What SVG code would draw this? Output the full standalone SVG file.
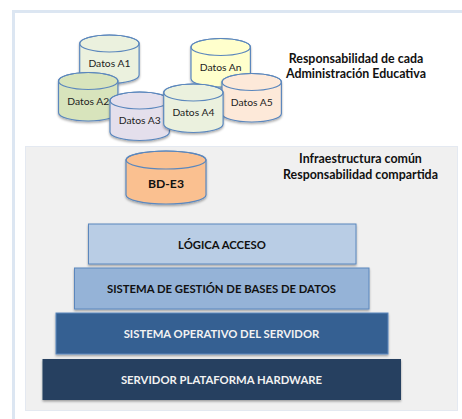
<svg xmlns="http://www.w3.org/2000/svg" width="462" height="419" viewBox="0 0 462 419">
<defs>
<filter id="sh" x="-10%" y="-10%" width="120%" height="125%"><feDropShadow dx="0" dy="1.5" stdDeviation="1" flood-color="#000" flood-opacity="0.35"/></filter>
<path id="cyl" d="M0 8.5A29.7 8.5 0 0 1 59.4 8.5V40A29.7 8.5 0 0 1 0 40Z"/>
<ellipse id="cap" cx="29.7" cy="8.5" rx="29.7" ry="8.5"/>
</defs>
<style>
text{font-family:Lato,"Open Sans","Liberation Sans",sans-serif;text-anchor:middle}
.c{stroke:#5b87bd;stroke-width:1.2;filter:url(#sh)}
.e{fill:none;stroke:#5b87bd;stroke-width:1.2}
.d{font-size:10.3px;fill:#222}
.h{font-size:12.4px;font-weight:700;fill:#111}
.b{font-size:11.3px;font-weight:700;fill:#111}
.w{font-size:11.3px;font-weight:700;fill:#f2f2f2}
.r{stroke:#5b87bd;stroke-width:1;filter:url(#sh)}
</style>
<rect width="462" height="419" fill="#fff"/>
<g id="frame"><path d="M13.500 419V11.500H462" fill="none" stroke="#dce6f2" stroke-width="3"/></g>
<g id="panel"><rect x="25.500" y="146.500" width="432" height="264" fill="#f0f0f0" stroke="#e4e9f1"/></g>
<g id="connectors"></g>
<g id="datos-a1" transform="translate(79.700 35)"><use href="#cyl" class="c" fill="#ebf1de"/><use href="#cap" class="e"/><text x="29.700" y="32" class="d">Datos A1</text></g>
<g id="datos-an" transform="translate(191 38.500)"><use href="#cyl" class="c" fill="#ffffcc"/><use href="#cap" class="e"/><text x="29.700" y="32" class="d">Datos An</text></g>
<g id="datos-a5" transform="translate(222 73.500)"><use href="#cyl" class="c" fill="#fde9d9"/><use href="#cap" class="e"/><text x="29.700" y="32" class="d">Datos A5</text></g>
<g id="datos-a2" transform="translate(58.500 72.500)"><use href="#cyl" class="c" fill="#d8e4bc"/><use href="#cap" class="e"/><text x="29.700" y="32" class="d">Datos A2</text></g>
<g id="datos-a3" transform="translate(110 92)"><use href="#cyl" class="c" fill="#e4dfec"/><use href="#cap" class="e"/><text x="29.700" y="32" class="d">Datos A3</text></g>
<g id="datos-a4" transform="translate(163.700 84)"><use href="#cyl" class="c" fill="#ebf1de"/><use href="#cap" class="e"/><text x="29.700" y="32" class="d">Datos A4</text></g>
<g id="resp-cada"><text x="356" y="63" class="h">Responsabilidad de cada</text><text x="356" y="78" class="h">Administración Educativa</text></g>
<g id="resp-comp"><text x="360.500" y="163" class="h">Infraestructura común</text><text x="360.500" y="179" class="h">Responsabilidad compartida</text></g>
<g id="bd-e3"><path class="c" fill="#fac090" d="M126 160A40 9 0 0 1 206 160V195A40 9 0 0 1 126 195Z"/><ellipse cx="166" cy="160" rx="40" ry="9" class="e"/><text x="166" y="188" font-size="12.2px" font-weight="700" fill="#111">BD-E3</text></g>
<g id="logica"><rect class="r" x="88.500" y="224" width="267.500" height="40" fill="#b9cde5"/><text x="222" y="249" class="b">LÓGICA ACCESO</text></g>
<g id="sgbd"><rect class="r" x="74.500" y="268" width="294.500" height="41" fill="#95b3d7"/><text x="221.500" y="293" class="b">SISTEMA DE GESTIÓN DE BASES DE DATOS</text></g>
<g id="so"><rect class="r" x="56" y="313" width="332" height="41" fill="#366092" stroke="#4a76ab"/><text x="221.500" y="338" class="w">SISTEMA OPERATIVO DEL SERVIDOR</text></g>
<g id="hw"><rect x="42.500" y="359" width="358.500" height="41" fill="#254061" filter="url(#sh)"/><text x="221.500" y="384" class="w">SERVIDOR PLATAFORMA HARDWARE</text></g>
</svg>
